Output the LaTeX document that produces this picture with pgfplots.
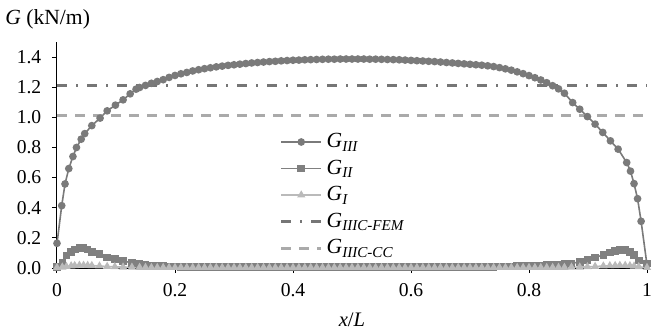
\documentclass[border=0pt]{standalone}
\usepackage{fontspec}
\setmainfont{Liberation Serif}
\usepackage{pgfplots}
\pgfplotsset{compat=1.18}

\definecolor{cIII}{HTML}{7A7A7A}
\definecolor{cII}{HTML}{808080}
\definecolor{cI}{HTML}{BABABA}
\definecolor{cFEM}{HTML}{767676}
\definecolor{cCC}{HTML}{AAAAAA}

\begin{document}
\fontsize{9.5}{11}\selectfont
\begin{tikzpicture}
\begin{axis}[
  name=ax,
  scale only axis,
  width=295pt,
  height=113pt,
  xmin=0, xmax=1,
  ymin=0, ymax=1.5,
  axis lines=left,
  axis line style={-, black, line width=0.5pt},
  xtick={0,0.2,0.4,0.6,0.8,1},
  ytick={0,0.2,0.4,0.6,0.8,1.0,1.2,1.4},
  tick align=outside,
  major tick length=2.5pt,
  tick style={black, line width=0.5pt},
  /pgf/number format/assume math mode=true,
  xticklabel style={/pgf/number format/fixed, /pgf/number format/precision=1, yshift=-2pt},
  yticklabel style={/pgf/number format/fixed, /pgf/number format/fixed zerofill, /pgf/number format/precision=1, xshift=-2pt},
  tick label style={font=\fontsize{9.8}{11}\selectfont},
  clip=false,
  legend style={at={(0.377,0.615)}, anchor=north west, draw=none, fill=none,
    font=\fontsize{10.8}{12}\selectfont, row sep=0.7pt, inner sep=0pt},
  legend cell align=left,
  legend image code/.code={\draw[mark repeat=2,mark phase=2] plot coordinates {(0cm,0cm) (0.35cm,0cm) (0.7cm,0cm)};},
]
% G_III
\addplot[color=cIII, line width=0.8pt, mark=*, mark size=1.5pt, mark options={solid, fill=cIII}] coordinates {
  (0,0.164) (0.008,0.414) (0.0136,0.558) (0.020,0.66) (0.027,0.74) (0.033,0.80) (0.041,0.855) (0.047,0.892)
  (0.059,0.945) (0.073,0.995) (0.085,1.043) (0.099,1.081) (0.112,1.116) (0.124,1.156) (0.134,1.187)
  (0.14,1.198) (0.15,1.212) (0.16,1.226) (0.17,1.238) (0.18,1.25) (0.19,1.265) (0.20,1.278) (0.21,1.289)
  (0.22,1.298) (0.23,1.308) (0.24,1.316) (0.25,1.323) (0.26,1.329) (0.27,1.335) (0.28,1.340) (0.29,1.345)
  (0.30,1.349) (0.31,1.353) (0.32,1.357) (0.33,1.361) (0.34,1.364) (0.35,1.367) (0.36,1.370) (0.37,1.372)
  (0.38,1.375) (0.39,1.377) (0.40,1.379) (0.41,1.380) (0.42,1.382) (0.43,1.383) (0.44,1.384) (0.45,1.385)
  (0.46,1.386) (0.47,1.386) (0.48,1.387) (0.49,1.387) (0.50,1.387) (0.51,1.387) (0.52,1.387) (0.53,1.386)
  (0.54,1.386) (0.55,1.385) (0.56,1.384) (0.57,1.383) (0.58,1.382) (0.59,1.380) (0.60,1.378) (0.61,1.376)
  (0.62,1.374) (0.63,1.372) (0.64,1.370) (0.65,1.367) (0.66,1.364) (0.67,1.361) (0.68,1.358) (0.69,1.355)
  (0.70,1.352) (0.71,1.349) (0.72,1.346) (0.73,1.342) (0.74,1.337) (0.75,1.330) (0.76,1.322) (0.77,1.313)
  (0.78,1.302) (0.79,1.290) (0.80,1.277) (0.81,1.263) (0.82,1.248) (0.83,1.230) (0.84,1.210) (0.85,1.189)
  (0.86,1.160) (0.874,1.098) (0.886,1.054) (0.899,1.005) (0.912,0.955) (0.925,0.90) (0.938,0.844)
  (0.951,0.789) (0.9656,0.70) (0.972,0.643) (0.978,0.56) (0.984,0.46) (0.99,0.31) (1,0.02)
};
\addlegendentry{\textit{G\textsubscript{III}}}
% G_II
\addplot[color=cII, line width=0.8pt, mark=square*, mark size=1.5pt, mark options={solid, fill=cII}] coordinates {
  (0,0.005) (0.009,0.035) (0.016,0.082) (0.024,0.108) (0.03,0.122) (0.038,0.131) (0.045,0.131) (0.052,0.122)
  (0.059,0.108) (0.072,0.093) (0.085,0.071) (0.098,0.058) (0.112,0.046) (0.127,0.035)
  (0.14,0.027) (0.15,0.022) (0.16,0.018) (0.17,0.015) (0.18,0.012) (0.19,0.010) (0.20,0.009) (0.21,0.008)
  (0.22,0.007) (0.23,0.006) (0.24,0.005) (0.25,0.005) (0.26,0.005) (0.27,0.005) (0.28,0.005) (0.29,0.005)
  (0.30,0.005) (0.31,0.005) (0.32,0.005) (0.33,0.005) (0.34,0.005) (0.35,0.005) (0.36,0.005) (0.37,0.005)
  (0.38,0.005) (0.39,0.005) (0.40,0.005) (0.41,0.005) (0.42,0.005) (0.43,0.005) (0.44,0.005) (0.45,0.005)
  (0.46,0.005) (0.47,0.005) (0.48,0.005) (0.49,0.005) (0.50,0.005) (0.51,0.005) (0.52,0.005) (0.53,0.005)
  (0.54,0.005) (0.55,0.005) (0.56,0.005) (0.57,0.005) (0.58,0.005) (0.59,0.005) (0.60,0.005) (0.61,0.005)
  (0.62,0.005) (0.63,0.005) (0.64,0.005) (0.65,0.005) (0.66,0.005) (0.67,0.005) (0.68,0.005) (0.69,0.005)
  (0.70,0.006) (0.71,0.006) (0.72,0.007) (0.73,0.007) (0.74,0.008) (0.75,0.009) (0.76,0.010) (0.77,0.011)
  (0.78,0.012) (0.79,0.013) (0.80,0.015) (0.81,0.016) (0.82,0.018) (0.83,0.020) (0.84,0.022) (0.85,0.024)
  (0.86,0.027) (0.872,0.031) (0.886,0.04) (0.899,0.053) (0.912,0.071) (0.926,0.086) (0.937,0.102)
  (0.946,0.113) (0.954,0.12) (0.963,0.12) (0.971,0.108) (0.978,0.086) (0.986,0.05) (1,0.03)
};
\addlegendentry{\textit{G\textsubscript{II}}}
% G_I
\addplot[color=cI, line width=0.8pt, mark=triangle*, mark size=1.6pt, mark options={solid, fill=cI}] coordinates {
  (0,0.003) (0.009,0.006) (0.016,0.010) (0.024,0.014) (0.03,0.016) (0.038,0.018) (0.045,0.018) (0.052,0.017)
  (0.059,0.016) (0.072,0.013) (0.085,0.010) (0.098,0.008) (0.112,0.006) (0.127,0.005)
  (0.14,0.004) (0.15,0.004) (0.16,0.003) (0.17,0.003) (0.18,0.003) (0.19,0.003) (0.20,0.003) (0.21,0.003)
  (0.22,0.003) (0.23,0.003) (0.24,0.003) (0.25,0.003) (0.26,0.003) (0.27,0.003) (0.28,0.003) (0.29,0.003)
  (0.30,0.003) (0.31,0.003) (0.32,0.003) (0.33,0.003) (0.34,0.003) (0.35,0.003) (0.36,0.003) (0.37,0.003)
  (0.38,0.003) (0.39,0.003) (0.40,0.003) (0.41,0.003) (0.42,0.003) (0.43,0.003) (0.44,0.003) (0.45,0.003)
  (0.46,0.003) (0.47,0.003) (0.48,0.003) (0.49,0.003) (0.50,0.003) (0.51,0.003) (0.52,0.003) (0.53,0.003)
  (0.54,0.003) (0.55,0.003) (0.56,0.003) (0.57,0.003) (0.58,0.003) (0.59,0.003) (0.60,0.003) (0.61,0.003)
  (0.62,0.003) (0.63,0.003) (0.64,0.003) (0.65,0.003) (0.66,0.003) (0.67,0.003) (0.68,0.003) (0.69,0.003)
  (0.70,0.003) (0.71,0.003) (0.72,0.003) (0.73,0.003) (0.74,0.003) (0.75,0.003) (0.76,0.003) (0.77,0.003)
  (0.78,0.003) (0.79,0.003) (0.80,0.003) (0.81,0.003) (0.82,0.003) (0.83,0.003) (0.84,0.003) (0.85,0.004)
  (0.86,0.004) (0.872,0.005) (0.886,0.006) (0.899,0.008) (0.912,0.010) (0.926,0.013) (0.937,0.015)
  (0.946,0.016) (0.954,0.017) (0.963,0.017) (0.971,0.015) (0.978,0.012) (0.986,0.008) (1,0.003)
};
\addlegendentry{\textit{G\textsubscript{I}}}
% critical values
\addplot[color=cFEM, line width=1.5pt, dash pattern=on 5pt off 4.5pt on 1pt off 4.5pt] coordinates {(0,1.21) (1,1.21)};
\addlegendentry{\textit{G\textsubscript{IIIC-FEM}}}
\addplot[color=cCC, line width=1.5pt, dash pattern=on 5pt off 4pt] coordinates {(0,1.015) (1,1.015)};
\addlegendentry{\textit{G\textsubscript{IIIC-CC}}}
\end{axis}
\node[anchor=base west, inner sep=0pt, font=\fontsize{10.8}{12}\selectfont] at ([xshift=-26pt,yshift=122pt]ax.south west) {\textit{G} (kN/m)};
\node[anchor=base, inner sep=0pt, font=\fontsize{10.3}{12}\selectfont] at ([xshift=147.5pt,yshift=-29pt]ax.south west) {\textit{x}/\textit{L}};
\pgfresetboundingbox
\path ([xshift=-28.5pt,yshift=-33pt]ax.south west) rectangle ([xshift=307.5pt,yshift=134pt]ax.south west);
\end{tikzpicture}
\end{document}
